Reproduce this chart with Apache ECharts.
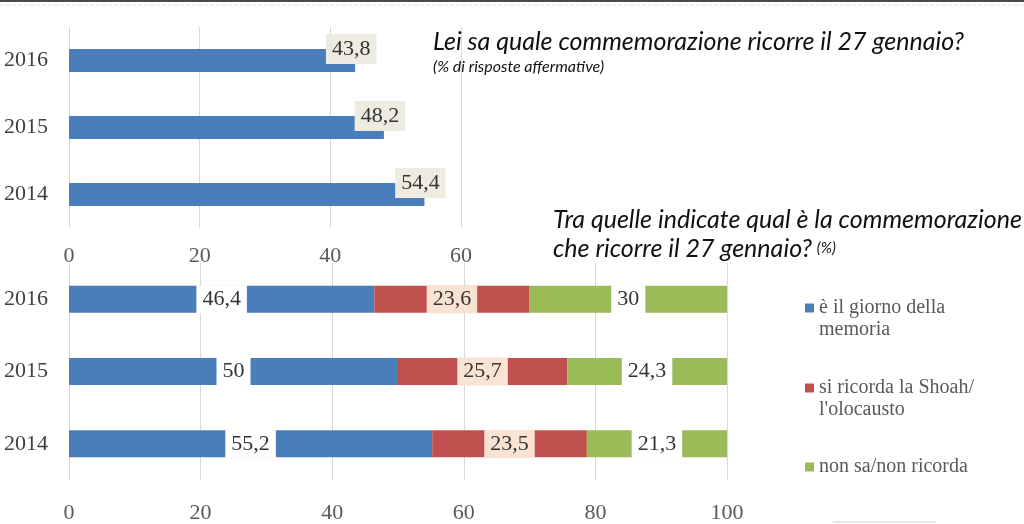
<!DOCTYPE html>
<html>
<head>
<meta charset="utf-8">
<script src="https://cdn.jsdelivr.net/npm/echarts@6/dist/echarts.min.js"></script>
<style>html,body{margin:0;padding:0;background:#fff}#c{width:1024px;height:524px}</style>
</head>
<body>
<div id="c"></div>
<script>
// ---- data ----
const years = ['2014', '2015', '2016'];
const knowValues = [54.4, 48.2, 43.8];
const seriesNames = ['è il giorno della memoria', 'si ricorda la Shoah/ l\'olocausto', 'non sa/non ricorda'];
// a leading blank line keeps the marker level with the first text line
const legendLabels = ['\nè il giorno della\nmemoria', '\nsi ricorda la Shoah/\nl\'olocausto', 'non sa/non ricorda'];
const giornoMemoria = [55.2, 50, 46.4];
const shoah = [23.5, 25.7, 23.6];
const nonSa = [21.3, 24.3, 30];
const topTicks = [0, 20, 40, 60];
const bottomTicks = [0, 20, 40, 60, 80, 100];

const SERIF = '"Liberation Serif", "DejaVu Serif", serif';
const SANS_IT = 'Lato, "Open Sans", sans-serif';
const fmt = v => String(v).replace('.', ',');

const chart = echarts.init(document.getElementById('c'));

function catAxis(gridIndex) {
  return {
    type: 'category', gridIndex, data: years,
    axisLine: {show: false}, axisTick: {show: false}, splitLine: {show: false},
    axisLabel: {fontFamily: SERIF, fontSize: 22, color: '#404040', margin: 21}
  };
}
function valAxis(gridIndex, ticks, margin) {
  return {
    type: 'value', gridIndex, min: ticks[0], max: ticks[ticks.length - 1],
    interval: ticks[1] - ticks[0],
    axisLine: {show: false}, axisTick: {show: false},
    splitLine: {show: true, lineStyle: {color: '#d9d9d9', width: 1}},
    axisLabel: {fontFamily: SERIF, fontSize: 22, color: '#595959', margin}
  };
}
const colors = ['#4a7ebb', '#c0504d', '#9bbb59'];
const labelBg = ['#ffffff', '#fbe3d4', '#ffffff'];
const stackData = [giornoMemoria, shoah, nonSa];

const legendTops = [275, 355, 456];
const legendBase = {
  orient: 'vertical', left: 805, padding: 0, itemWidth: 9, itemHeight: 9, icon: 'rect', selectedMode: false,
  formatter: name => legendLabels[seriesNames.indexOf(name)],
  textStyle: {fontFamily: SERIF, fontSize: 20, lineHeight: 22, color: '#595959'}
};

const option = {
  animation: false,
  backgroundColor: '#fff',
  title: [
    {
      text: 'Lei sa quale commemorazione ricorre il 27 gennaio?',
      subtext: '(% di risposte affermative)',
      left: 433, top: 29, padding: 0, itemGap: 5,
      textStyle: {fontFamily: SANS_IT, fontStyle: 'italic', fontWeight: 'normal', fontSize: 25, color: '#111'},
      subtextStyle: {fontFamily: SANS_IT, fontStyle: 'italic', fontSize: 16, color: '#111'}
    },
    {
      text: '{a|Tra quelle indicate qual è la commemorazione}\n{a|che ricorre il 27 gennaio?} {b|(%)}',
      left: 553, top: 205, padding: 0,
      textStyle: {
        fontWeight: 'normal',
        rich: {
          a: {fontFamily: SANS_IT, fontStyle: 'italic', fontWeight: 'normal', fontSize: 25, color: '#111', lineHeight: 29},
          b: {fontFamily: SANS_IT, fontStyle: 'italic', fontWeight: 'normal', fontSize: 15, color: '#111', lineHeight: 29}
        }
      }
    }
  ],
  legend: seriesNames.map((n, i) => Object.assign({}, legendBase, {top: legendTops[i], data: [n]})),
  grid: [
    {left: 69, width: 392, top: 27, height: 201},
    {left: 69, width: 658, top: 263, height: 223}
  ],
  xAxis: [valAxis(0, topTicks, 17), valAxis(1, bottomTicks, 22)],
  yAxis: [catAxis(0), catAxis(1)],
  series: [
    {
      type: 'bar', name: 'sa', xAxisIndex: 0, yAxisIndex: 0, data: knowValues,
      barWidth: 23, itemStyle: {color: colors[0]},
      label: {
        show: true, position: ['100%', '0%'], align: 'center', verticalAlign: 'middle', offset: [-4, 0],
        formatter: p => fmt(p.value), fontFamily: SERIF, fontSize: 22, lineHeight: 22, color: '#333',
        backgroundColor: '#eeece1', padding: [4, 6]
      }
    }
  ].concat(stackData.map((d, i) => ({
    type: 'bar', name: seriesNames[i], xAxisIndex: 1, yAxisIndex: 1, data: d, stack: 'tot',
    barWidth: 27, itemStyle: {color: colors[i]},
    label: {
      show: true, position: 'inside', formatter: p => fmt(p.value),
      fontFamily: SERIF, fontSize: 22, lineHeight: 22, color: '#333',
      backgroundColor: labelBg[i], padding: [3, 6]
    }
  }))),
  graphic: [
    {type: 'rect', shape: {x: 0, y: 0, width: 1024, height: 2}, style: {fill: '#4a4a4a'}},
    {type: 'line', shape: {x1: 0, y1: 5, x2: 1024, y2: 5}, style: {stroke: '#e2e2e2', lineWidth: 1, lineDash: [4, 2]}},
    {type: 'line', shape: {x1: 833, y1: 522, x2: 936, y2: 522}, style: {stroke: '#e6e6e6', lineWidth: 2}}
  ]
};
chart.setOption(option);
</script>
</body>
</html>
